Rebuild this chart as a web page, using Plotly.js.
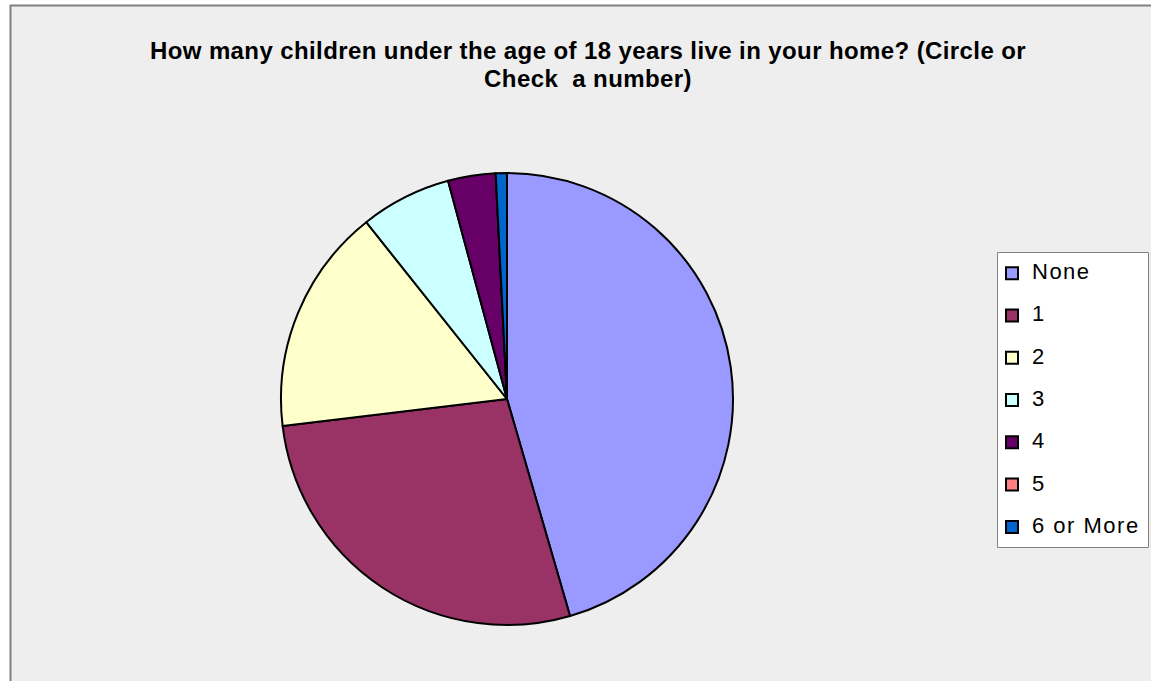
<!DOCTYPE html>
<html>
<head>
<meta charset="utf-8">
<script src="https://cdn.plot.ly/plotly-3.0.1.min.js"></script>
<style>html,body{margin:0;padding:0;background:#fff;}#chart{width:1151px;height:681px;}</style>
</head>
<body>
<div id="chart"></div>
<script>
const categories = ["None", "1", "2", "3", "4", "5", "6 or More"];
const shares = [45.5, 27.6, 16.2, 6.5, 3.4, 0, 0.8];
const sliceColors = ["#9999FF", "#993366", "#FFFFCC", "#CCFFFF", "#660066", "#FF8080", "#0066CC"];
const titleLines = ["How many children under the age of 18 years live in your home? (Circle or", "Check  a number)"];

const W = 1151, H = 681;
const px = v => v / W;
const py = v => 1 - v / H;

const trace = {
  type: "pie",
  labels: categories.map(c => '<span style="font-size:22px;letter-spacing:1.5px">' + c + '</span><br> '),
  values: shares,
  sort: false,
  direction: "clockwise",
  rotation: 0,
  textinfo: "none",
  hoverinfo: "label+percent",
  marker: { colors: sliceColors, line: { color: "#000000", width: 2 } },
  domain: { x: [px(281), px(733)], y: [py(625), py(173)] },
  automargin: false
};

const layout = {
  width: W, height: H,
  margin: { l: 0, r: 0, t: 0, b: 0 },
  paper_bgcolor: "#FFFFFF",
  font: { family: "Liberation Sans, Arial, sans-serif", color: "#000000" },
  title: {
    text: titleLines.map(t => '<span style="font-size:24px;letter-spacing:0.4px">' + t + '</span>').join('<br>'),
    font: { size: 21.5, weight: "bold", family: "Liberation Sans, Arial, sans-serif", color: "#000000" },
    x: px(588), xanchor: "center", xref: "paper",
    y: py(59), yanchor: "top", yref: "paper"
  },
  showlegend: true,
  legend: {
    x: px(992), xanchor: "left",
    y: py(257), yanchor: "top",
    bgcolor: "rgba(0,0,0,0)",
    borderwidth: 0,
    valign: "top",
    font: { size: 15.1, family: "Liberation Sans, Arial, sans-serif", color: "#000000" },
    traceorder: "normal",
    itemclick: false
  },
  shapes: [{
    type: "rect", xref: "paper", yref: "paper", layer: "below",
    x0: px(10.5), x1: 1.05, y0: -0.05, y1: py(5.5),
    fillcolor: "#EEEEEE",
    line: { color: "#808080", width: 2 }
  }, {
    type: "rect", xref: "paper", yref: "paper", layer: "below",
    x0: px(997.5), x1: px(1148.5), y0: py(547.5), y1: py(252.5),
    fillcolor: "#FFFFFF",
    line: { color: "#808080", width: 1 }
  }]
};

Plotly.newPlot("chart", [trace], layout, { displayModeBar: false, staticPlot: true });
</script>
</body>
</html>
